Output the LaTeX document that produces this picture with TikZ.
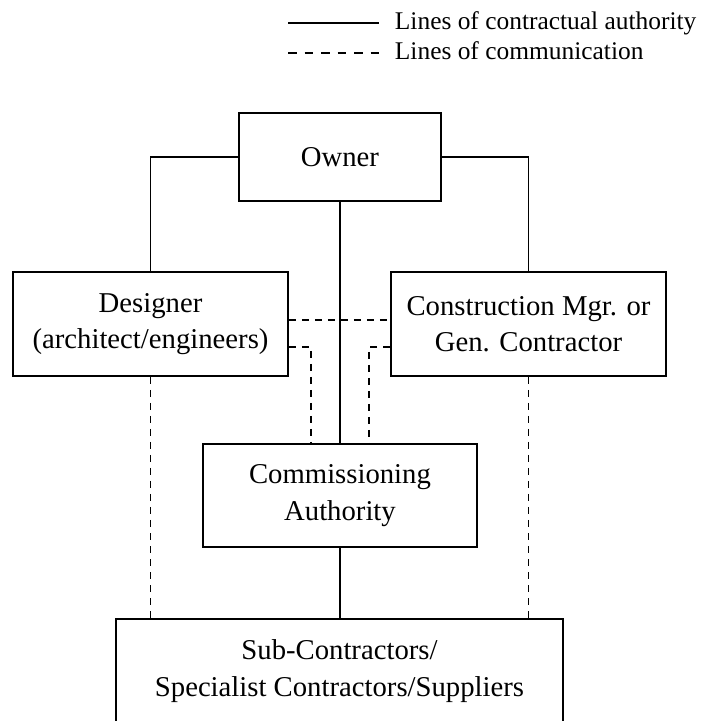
\documentclass[tikz,border=0pt]{standalone}
\usepackage{fontspec}
\setmainfont{Liberation Serif}
\usepackage{tikz}
\usetikzlibrary{calc}
\usetikzlibrary{positioning}

\begin{document}
\begin{tikzpicture}[
	x=0.03cm, y=-0.03cm,
  line width=1.6pt,
  box/.style = {draw, align=center, inner sep=0pt, font=\fontsize{24.5}{31}\selectfont},
  comm/.style = {dash pattern=on 6pt off 5.1pt},
  legdash/.style = {dash pattern=on 7.3pt off 6.8pt},
  legtext/.style = {anchor=base west, inner sep=0pt, font=\fontsize{21.7}{26}\selectfont}
  ]
	\useasboundingbox (0,0) rectangle (706,721);

	% legend
	\coordinate (@s1) at (288,23);
	\coordinate (@s2) at (379,23);
	\coordinate (@d1) at (288,53);
	\coordinate (@d2) at (379,53);
	\draw (@s1) -- (@s2);
	\draw[legdash] (@d1) -- (@d2);
	\node[legtext] (solidtext) at (394,29) {Lines of contractual authority};
	\node[legtext] (dashtext) at (394,59) {Lines of communication};

	% boxes
	\node[box, minimum width=6.06cm, minimum height=2.64cm] (owner) at (340,157) {Owner};
	\node[box, minimum width=8.25cm, minimum height=3.12cm] (designer) at (150.5,324) {Designer\\(architect/engineers)};
	\node[box, minimum width=8.25cm, minimum height=3.12cm] (cm) at (528.5,324) {Construction Mgr. or\\Gen. Contractor};
	\node[box, minimum width=8.22cm, minimum height=3.09cm] (cx) at (340,495.5) {Commissioning\\Authority};
	\node[box, minimum width=13.41cm, minimum height=3.12cm] (sub) at (339.5,671) {Sub-Contractors/\\Specialist Contractors/Suppliers};

	% contractual authority
	\draw (owner.west) -| (designer.north);
	\draw (owner.east) -| (cm.north);
	\draw (owner.south) -- (cx.north);
	\draw (cx.south) -- (cx.south |- sub.north);

	% communication
	\draw[comm] ($(designer.east)+(0,-4)$) -- ($(cm.west)+(0,-4)$);
	\draw[comm] ($(designer.east)+(0,23)$) -| ($(cx.north)+(-29,0)$);
	\draw[comm] ($(cm.west)+(0,23)$) -| ($(cx.north)+(29,0)$);
	\draw[comm] (designer.south) -- (designer.south |- sub.north);
	\draw[comm] (cm.south) -- (cm.south |- sub.north);

\end{tikzpicture}
\end{document}
